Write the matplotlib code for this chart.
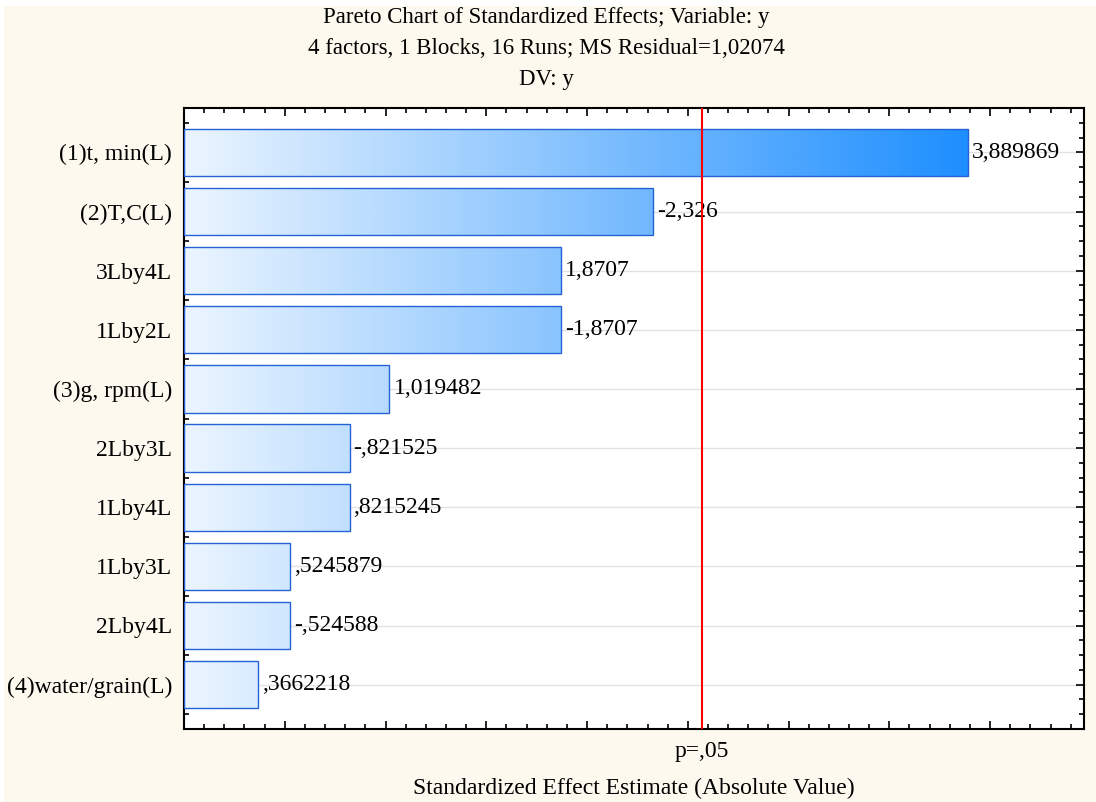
import matplotlib.pyplot as plt
import numpy as np
from matplotlib.patches import Rectangle
from matplotlib.ticker import MultipleLocator, FixedLocator
from matplotlib.colors import LinearSegmentedColormap

plt.rcParams['font.family'] = ['Liberation Serif', 'DejaVu Serif']

# effects, in Pareto order (largest first)
efeitos = ['(1)t, min(L)', '(2)T,C(L)', '3Lby4L', '1Lby2L', '(3)g, rpm(L)',
           '2Lby3L', '1Lby4L', '1Lby3L', '2Lby4L', '(4)water/grain(L)']
valores = [3.889869, -2.326, 1.8707, -1.8707, 1.019482,
           -0.821525, 0.8215245, 0.5245879, -0.524588, 0.3662218]
rotulos = ['3,889869', '-2,326', '1,8707', '-1,8707', '1,019482',
           '-,821525', ',8215245', ',5245879', '-,524588', ',3662218']
t_critico = 2.570582  # t(0.975, df=5)

FUNDO = '#FDF9EE'
ALTURA = 0.8
FS = 17

fig = plt.figure(figsize=(10.96, 8.02), dpi=100, facecolor='white')
fig.patches.append(Rectangle((4 / 1096, 0), 1, 1 - 6 / 802, transform=fig.transFigure,
                             facecolor=FUNDO, edgecolor='none', zorder=-10))
ax = fig.add_axes([184 / 1096, 1 - 729 / 802, 900 / 1096, 621 / 802])
ax.set_facecolor('white')

absolutos = np.abs(valores)
xmax = 4.466

# gradient shared by all bars: pale at 0, dodger blue at the longest bar
cmap = LinearSegmentedColormap.from_list('barra', ['#ECF5FE', '#1E8FFF'])
grad = np.linspace(0, 1, 512).reshape(1, -1)

for i, (v, txt) in enumerate(zip(absolutos, rotulos)):
    y0 = i - ALTURA / 2
    im = ax.imshow(grad, cmap=cmap, aspect='auto', extent=(0, absolutos.max(), y0 + ALTURA, y0),
                   interpolation='bilinear', zorder=2)
    ret = Rectangle((0, y0), v, ALTURA, facecolor='none', edgecolor='#2462D6', linewidth=1.0, zorder=3)
    ax.add_patch(ret)
    im.set_clip_path(ret)
    ax.text(v + 0.02, i, txt, va='center', ha='left', fontsize=FS, zorder=4)

ax.set_xlim(0, xmax)
ax.set_ylim(len(efeitos) - 0.25, -0.75)

# horizontal grid on category centres
for i in range(len(efeitos)):
    ax.axhline(i, color='#E2E2E2', linewidth=1.0, zorder=1)

ax.axvline(t_critico, color='red', linewidth=1.5, zorder=5)

ax.yaxis.set_major_locator(FixedLocator(range(len(efeitos))))
ax.yaxis.set_minor_locator(MultipleLocator(0.25))
ax.set_yticklabels(efeitos, fontsize=FS)
ax.xaxis.set_major_locator(MultipleLocator(0.5))
ax.xaxis.set_minor_locator(MultipleLocator(0.1))
ax.set_xticklabels([])
ax.tick_params(which='both', direction='in', top=True, right=True, width=1.2)
ax.tick_params(which='major', length=6, pad=8.5)
ax.tick_params(which='minor', length=3.5)
for s in ax.spines.values():
    s.set_linewidth(1.5)

ax.text(t_critico, -0.037, 'p=,05', transform=ax.get_xaxis_transform(),
        ha='center', va='center', fontsize=FS)
ax.text(0.5, -0.095, 'Standardized Effect Estimate (Absolute Value)', transform=ax.transAxes,
        ha='center', va='center', fontsize=FS)

fig.text(0.4985, 1 - 18 / 802, 'Pareto Chart of Standardized Effects; Variable: y', ha='center', va='center', fontsize=16.5)
fig.text(0.4985, 1 - 48 / 802, '4 factors, 1 Blocks, 16 Runs; MS Residual=1,02074', ha='center', va='center', fontsize=16.5)
fig.text(0.4985, 1 - 80 / 802, 'DV: y', ha='center', va='center', fontsize=16.5)

fig.savefig('out.png', dpi=100, facecolor=fig.get_facecolor())
